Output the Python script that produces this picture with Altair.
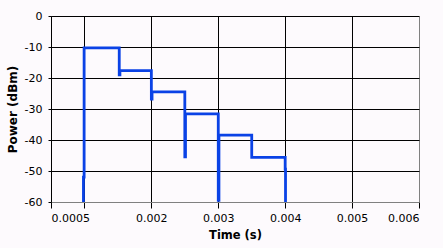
import altair as alt
import pandas as pd

# Trace (time in s, power in dBm), in drawing order
time_s = [0.000985, 0.000985, 0.000995, 0.000995, 0.00152, 0.00152, 0.00153, 0.00153,
          0.00200, 0.00200, 0.00201, 0.00201, 0.00250, 0.00250, 0.00251, 0.00251,
          0.00300, 0.00300, 0.00301, 0.00301, 0.00350, 0.00350, 0.00351, 0.00351,
          0.00400, 0.00400, 0.004005, 0.004005]
power_dbm = [-60, -52, -52, -10.3, -10.3, -19.0, -19.0, -17.6,
             -17.6, -26.8, -26.8, -24.5, -24.5, -45.4, -45.4, -31.6,
             -31.6, -59.5, -59.5, -38.4, -38.4, -45.6, -45.6, -45.6,
             -45.6, -49.4, -49.4, -60]

x_ticks = [0.0005, 0.001, 0.002, 0.003, 0.004, 0.005, 0.006]
y_ticks = [0, -10, -20, -30, -40, -50, -60]

df = pd.DataFrame({"t": time_s, "p": power_dbm, "i": list(range(len(time_s)))})

FONT = "DejaVu Sans"

x_axis = alt.Axis(
    values=x_ticks,
    labelExpr="datum.value == 0.001 ? '' : '' + datum.value",
    title="Time (s)",
    titleFont=FONT, titleFontSize=11.5, titleFontWeight="bold", titleColor="black",
    titlePadding=6,
    labelFont=FONT, labelFontSize=11, labelColor="black", labelPadding=4,
    labelOverlap=False,
    domainColor="#808080", domainWidth=1,
    tickColor="black", tickSize=6,
    grid=True,
    gridColor={"condition": {"test": "datum.value == 0.006", "value": "#808080"}, "value": "black"},
    gridWidth=1,
)

y_axis = alt.Axis(
    values=y_ticks,
    labelExpr="'' + datum.value",
    title="Power (dBm)",
    titleFont=FONT, titleFontSize=12, titleFontWeight="bold", titleColor="black",
    titlePadding=5,
    labelFont=FONT, labelFontSize=11, labelColor="black", labelPadding=6,
    domainColor="black", domainWidth=1,
    tickColor="black", tickSize=3,
    grid=True,
    gridColor={"condition": {"test": "datum.value == -60", "value": "#808080"}, "value": "black"},
    gridWidth=1,
)

chart = (
    alt.Chart(df)
    .mark_line(color="#0A42E6", strokeWidth=2.8, clip=True)
    .encode(
        x=alt.X("t:Q", scale=alt.Scale(domain=[0.0005, 0.006], nice=False, zero=False), axis=x_axis),
        y=alt.Y("p:Q", scale=alt.Scale(domain=[-60, 0], nice=False, zero=False), axis=y_axis),
        order="i:Q",
    )
    .properties(
        width=368,
        height=186,
        autosize="none",
        padding={"left": 51, "top": 16, "right": 24, "bottom": 46},
        background="#FDFAFD",
    )
    .configure_view(stroke=None)
)

chart.save("out.html", embed_options={"renderer": "svg", "actions": False})
